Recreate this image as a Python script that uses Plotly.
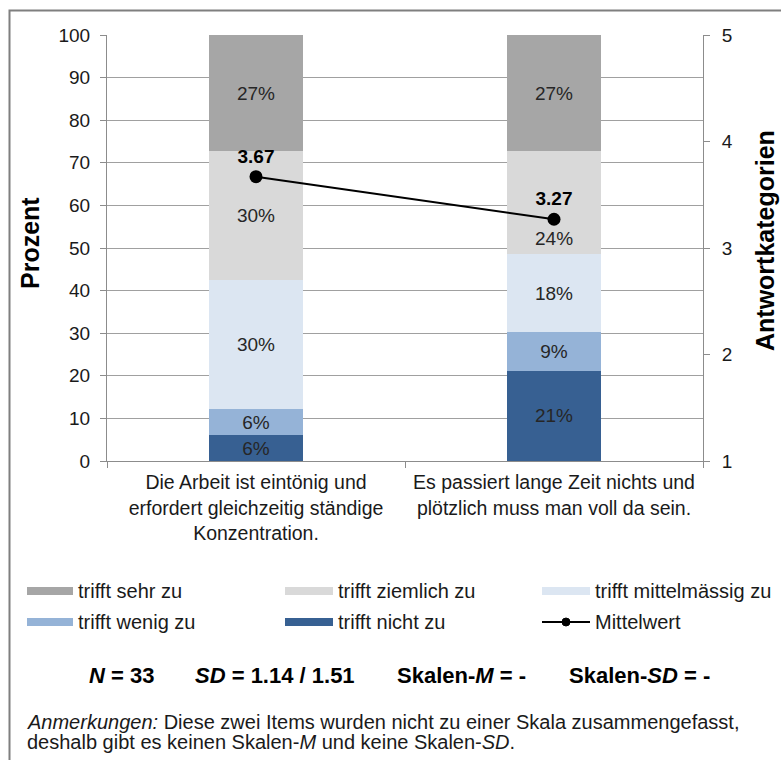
import plotly.graph_objects as go

# --- data -------------------------------------------------------------
items = [
    "Die Arbeit ist eintönig und<br>erfordert gleichzeitig ständige<br>Konzentration.",
    "Es passiert lange Zeit nichts und<br>plötzlich muss man voll da sein.",
]
n_total = 33
# answer counts per item (bottom to top of the stack)
categories = ["trifft nicht zu", "trifft wenig zu", "trifft mittelmässig zu",
              "trifft ziemlich zu", "trifft sehr zu"]
counts_nicht = [2, 7]
counts_wenig = [2, 3]
counts_mittel = [10, 6]
counts_ziemlich = [10, 8]
counts_sehr = [9, 9]
means = [3.67, 3.27]
sd_values = ["1.14", "1.51"]
colors = ["#376092", "#95B3D7", "#DCE6F2", "#D9D9D9", "#A6A6A6"]

series_counts = [counts_nicht, counts_wenig, counts_mittel, counts_ziemlich, counts_sehr]
series_pct = [[c / n_total * 100 for c in s] for s in series_counts]

# --- geometry helpers (pixels -> paper) ---------------------------------
W_FIG, H_FIG = 781, 760
L, R, T, B = 107, 703, 35, 461


def px(x):
    return (x - L) / (R - L)


def py(y):
    return (B - y) / (B - T)


FONT = "Liberation Sans, Arial, sans-serif"
TXT = "#1a1a1a"
GRID = "#A0A0A0"
AXIS = "#8C8C8C"
LABEL_SIZE = 19

# labels that would collide with the mean marker are set at the segment's foot
shifted = {(3, 1)}

fig = go.Figure()
annotations = []

for k, (name, pct, col) in enumerate(zip(categories, series_pct, colors)):
    labels = []
    for i, v in enumerate(pct):
        if (k, i) in shifted:
            labels.append("")
            base = sum(series_pct[j][i] for j in range(k))
            annotations.append(dict(
                text=f"{v:.0f}%", x=items[i], y=base, xref="x", yref="y",
                xanchor="center", yanchor="bottom", yshift=3, showarrow=False,
                font=dict(family=FONT, size=LABEL_SIZE, color="#262626")))
        else:
            labels.append(f"{v:.0f}%")
    fig.add_trace(go.Bar(
        x=items, y=pct, name=name, marker=dict(color=col, line=dict(width=0)),
        text=labels, texttemplate="%{text}", textposition="inside",
        insidetextanchor="middle", constraintext="none", textangle=0,
        textfont=dict(family=FONT, size=LABEL_SIZE, color="#262626"),
        hoverinfo="skip", showlegend=False,
    ))

fig.add_trace(go.Scatter(
    x=items, y=means, yaxis="y2", mode="lines+markers+text",
    line=dict(color="black", width=2), marker=dict(color="black", size=13),
    text=[f"<b>{m:.2f}</b>" for m in means], textposition="top center",
    textfont=dict(family=FONT, size=19, color="black"),
    name="Mittelwert", showlegend=False, hoverinfo="skip", cliponaxis=False,
))

fig.update_layout(
    width=W_FIG, height=H_FIG,
    margin=dict(l=L, r=W_FIG - R, t=T, b=H_FIG - B, pad=0, autoexpand=False),
    paper_bgcolor="white", plot_bgcolor="white",
    barmode="stack", bargap=0.685,
    font=dict(family=FONT, color=TXT),
    xaxis=dict(
        type="category", range=[-0.5, 1.5], tickson="boundaries",
        ticks="outside", ticklen=6, tickcolor=AXIS, showline=True,
        linecolor=AXIS, linewidth=1, showgrid=False, tickangle=0,
        automargin=False,
        tickfont=dict(family=FONT, size=19.5, color=TXT), ticklabelstandoff=4,
    ),
    yaxis=dict(
        range=[0, 100], dtick=10, showgrid=True, gridcolor=GRID, gridwidth=1,
        showline=True, linecolor=AXIS, ticks="outside", ticklen=6, tickcolor=AXIS,
        zeroline=False, tickfont=dict(family=FONT, size=19, color=TXT),
        ticklabelstandoff=6, automargin=False,
    ),
    yaxis2=dict(
        range=[1, 5], dtick=1, overlaying="y", side="right", anchor="x",
        showgrid=False, showline=True, linecolor=AXIS, ticks="outside",
        ticklen=6, tickcolor=AXIS, zeroline=False, automargin=False,
        tickfont=dict(family=FONT, size=19, color=TXT), ticklabelstandoff=8,
    ),
)

shapes = []

# frame (left and top edges)
shapes.append(dict(type="path", xref="paper", yref="paper",
                   path=f"M {px(9.5)} {py(H_FIG + 5)} L {px(9.5)} {py(10.5)} L {px(W_FIG + 5)} {py(10.5)}",
                   line=dict(color="#7F7F7F", width=2)))

# axis titles
annotations.append(dict(text="<b>Prozent</b>", xref="paper", yref="paper",
                        x=px(30), y=py(243), textangle=-90, showarrow=False,
                        xanchor="center", yanchor="middle",
                        font=dict(family=FONT, size=25, color="black")))
annotations.append(dict(text="<b>Antwortkategorien</b>", xref="paper", yref="paper",
                        x=px(765), y=py(241), textangle=-90, showarrow=False,
                        xanchor="center", yanchor="middle",
                        font=dict(family=FONT, size=25, color="black")))

# legend (three columns, two rows)
legend_order = [4, 3, 2, 1, 0, None]  # None -> mean line
col_swatch = [(27, 73), (285, 333), (542, 590)]
col_text = [76, 336, 593]
row_y = [591, 622]
for k, idx in enumerate(legend_order):
    r, c = divmod(k, 3)
    y = row_y[r]
    x0, x1 = col_swatch[c]
    if idx is None:
        shapes.append(dict(type="line", xref="paper", yref="paper",
                           x0=px(x0), x1=px(x1), y0=py(y), y1=py(y),
                           line=dict(color="black", width=2)))
        xm = (x0 + x1) / 2
        shapes.append(dict(type="circle", xref="paper", yref="paper",
                           x0=px(xm - 4), x1=px(xm + 4), y0=py(y + 4), y1=py(y - 4),
                           fillcolor="black", line=dict(color="black", width=1)))
        label = "Mittelwert"
    else:
        shapes.append(dict(type="rect", xref="paper", yref="paper",
                           x0=px(x0), x1=px(x1), y0=py(y + 4), y1=py(y - 4),
                           fillcolor=colors[idx], line=dict(width=0)))
        label = categories[idx]
    annotations.append(dict(text=label, xref="paper", yref="paper",
                            x=px(col_text[c]), y=py(y), xanchor="left",
                            yanchor="middle", showarrow=False,
                            font=dict(family=FONT, size=20, color=TXT)))

# summary statistics line
stats = [
    (87, f"<b><i>N</i> = {n_total}</b>"),
    (193, f"<b><i>SD</i> = {sd_values[0]} / {sd_values[1]}</b>"),
    (395, "<b>Skalen-<i>M</i> = -</b>"),
    (567, "<b>Skalen-<i>SD</i> = -</b>"),
]
for x, s in stats:
    annotations.append(dict(text=s, xref="paper", yref="paper", x=px(x), y=py(676),
                            xanchor="left", yanchor="middle", showarrow=False,
                            font=dict(family=FONT, size=22, color="black")))

# note, one annotation per line
note_lines = [
    (722, "<i>Anmerkungen:</i> Diese zwei Items wurden nicht zu einer Skala zusammengefasst,"),
    (742, "deshalb gibt es keinen Skalen-<i>M</i> und keine Skalen-<i>SD</i>."),
]
for y, s in note_lines:
    annotations.append(dict(
        text=s, xref="paper", yref="paper", x=px(25), y=py(y), xanchor="left",
        yanchor="middle", align="left", showarrow=False,
        font=dict(family=FONT, size=20, color=TXT)))

fig.update_layout(shapes=shapes, annotations=annotations)

fig.write_html("out.html")
